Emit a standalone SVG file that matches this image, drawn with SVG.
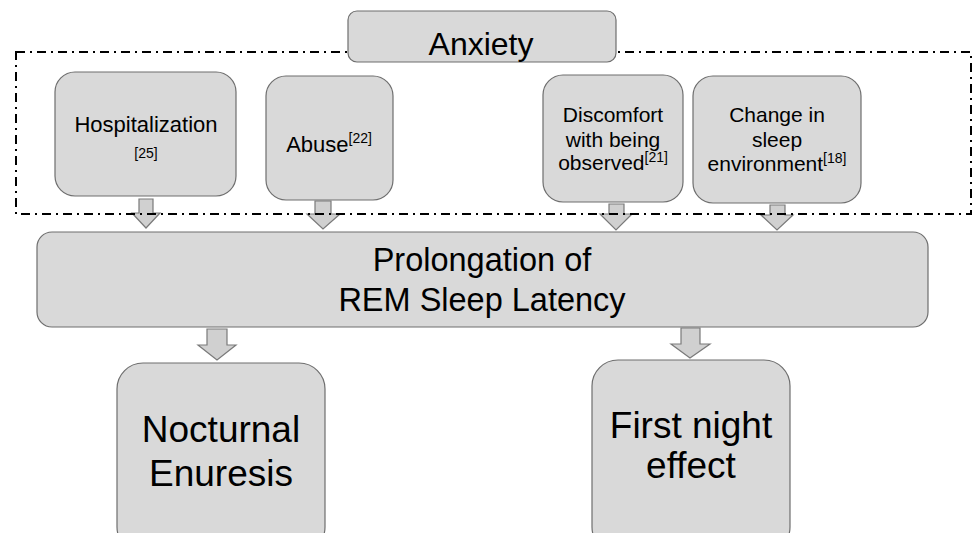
<svg xmlns="http://www.w3.org/2000/svg" width="974" height="533" viewBox="0 0 974 533">
<style>
.box{fill:#d9d9d9;stroke:#6e6e6e;stroke-width:1.2}
.arr{fill:#d0d0d0;stroke:#7a7a7a;stroke-width:1.2;stroke-linejoin:miter}
text{font-family:"Liberation Sans",Arial,sans-serif;fill:#000;text-anchor:middle}
.sm{font-size:21px}
.sup{font-size:14px}
.md{font-size:32.5px}
.lg{font-size:37px}
</style>
<rect width="974" height="533" fill="#fff"/>
<g id="connectors">
<path class="arr" d="M139,199 H153 V213 H160 L146,228 L132,213 H139 Z"/>
<path class="arr" d="M315,201 H331 V214 H340 L323,229 L307,214 H315 Z"/>
<path class="arr" d="M609,204 H624 V214 H632 L616,230 L600,214 H609 Z"/>
<path class="arr" d="M770,205 H785 V215 H793 L777,230 L761,215 H770 Z"/>
<path class="arr" d="M207,329 H227 V345 H236 L217,360 L198,345 H207 Z"/>
<path class="arr" d="M681,328 H700 V344 H710 L690,358 L671,344 H681 Z"/>
</g>
<g id="group-border">
<rect x="16" y="52" width="955" height="162" fill="none" stroke="#000" stroke-width="2" stroke-dasharray="9 5 2 5"/>
</g>
<g id="anxiety">
<rect class="box" x="348" y="11" width="268" height="51" rx="9"/>
<text x="481" y="55" style="font-size:32px">Anxiety</text>
</g>
<g id="hospitalization">
<rect class="box" x="55" y="72" width="181" height="124" rx="20"/>
<text x="146" y="132" style="font-size:22px">Hospitalization</text>
<text class="sup" x="146" y="158">[25]</text>
</g>
<g id="abuse">
<rect class="box" x="266" y="76" width="127" height="124" rx="20"/>
<text x="329" y="152" style="font-size:22px">Abuse<tspan class="sup" dy="-9">[22]</tspan></text>
</g>
<g id="discomfort">
<rect class="box" x="543" y="75" width="140" height="127" rx="20"/>
<text class="sm" x="613" y="122">Discomfort</text>
<text class="sm" x="613" y="147">with being</text>
<text class="sm" x="613" y="170">observed<tspan class="sup" dy="-8">[21]</tspan></text>
</g>
<g id="change">
<rect class="box" x="693" y="76" width="168" height="127" rx="20"/>
<text class="sm" x="777" y="122">Change in</text>
<text class="sm" x="777" y="147">sleep</text>
<text class="sm" x="777" y="171">environment<tspan class="sup" dy="-8">[18]</tspan></text>
</g>
<g id="prolongation">
<rect class="box" x="37" y="232" width="891" height="95" rx="15"/>
<text class="md" x="482" y="271">Prolongation of</text>
<text class="md" x="482" y="311">REM Sleep Latency</text>
</g>
<g id="nocturnal">
<rect class="box" x="117" y="363" width="208" height="190" rx="26"/>
<text class="lg" x="221" y="442">Nocturnal</text>
<text class="lg" x="221" y="486">Enuresis</text>
</g>
<g id="firstnight">
<rect class="box" x="592" y="360" width="198" height="193" rx="26"/>
<text class="lg" x="691" y="438">First night</text>
<text class="lg" x="691" y="478">effect</text>
</g>
</svg>
